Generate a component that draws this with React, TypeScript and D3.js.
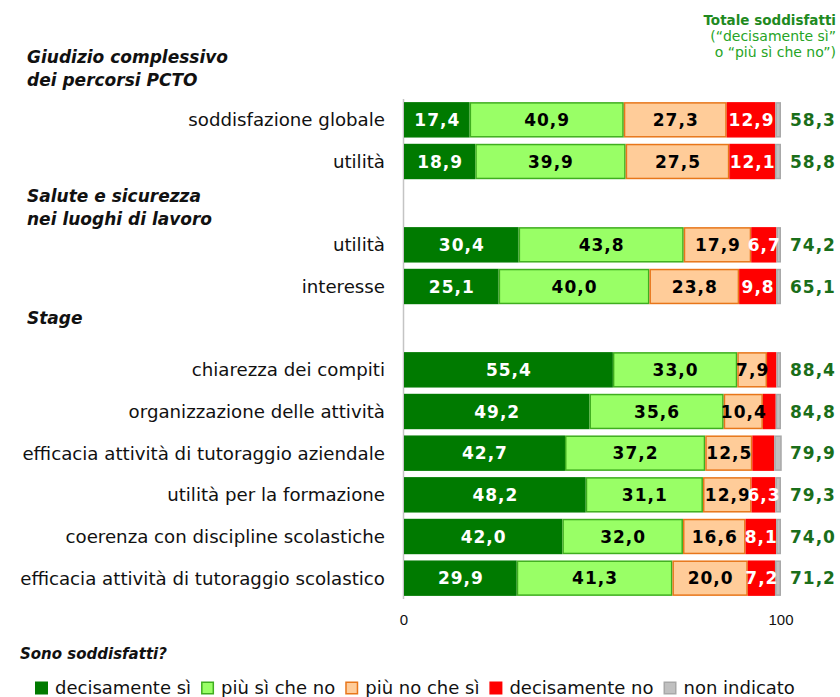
import React from "react";
import * as d3 from "d3";

const rowLabels = [
  "soddisfazione globale",
  "utilità",
  "",
  "utilità",
  "interesse",
  "",
  "chiarezza dei compiti",
  "organizzazione delle attività",
  "efficacia attività di tutoraggio aziendale",
  "utilità per la formazione",
  "coerenza con discipline scolastiche",
  "efficacia attività di tutoraggio scolastico",
];
const decisamenteSi = [17.4, 18.9, null, 30.4, 25.1, null, 55.4, 49.2, 42.7, 48.2, 42.0, 29.9];
const piuSiCheNo = [40.9, 39.9, null, 43.8, 40.0, null, 33.0, 35.6, 37.2, 31.1, 32.0, 41.3];
const piuNoCheSi = [27.3, 27.5, null, 17.9, 23.8, null, 7.9, 10.4, 12.5, 12.9, 16.6, 20.0];
const decisamenteNo = [12.9, 12.1, null, 6.7, 9.8, null, 2.5, 3.4, 5.8, 6.3, 8.1, 7.2];
const nonIndicato = [1.5, 1.6, null, 1.2, 1.3, null, 1.2, 1.4, 2.0, 1.5, 1.3, 1.6];
const totaleSoddisfatti = [58.3, 58.8, null, 74.2, 65.1, null, 88.4, 84.8, 79.9, 79.3, 74.0, 71.2];

const seriesNames = ["decisamente sì", "più sì che no", "più no che sì", "decisamente no", "non indicato"];
const seriesValues = [decisamenteSi, piuSiCheNo, piuNoCheSi, decisamenteNo, nonIndicato];
const seriesFill = ["#007a00", "#99ff66", "#ffcc99", "#ff0000", "#c0c0c0"];
const seriesStroke = ["#007a00", "#3fae1f", "#e8761a", "#ff0000", "#a8a8a8"];
const seriesText = ["#ffffff", "#000000", "#000000", "#ffffff", "#000000"];

const sectionTitles = [
  ["Giudizio complessivo", "dei percorsi PCTO"],
  ["Salute e sicurezza", "nei luoghi di lavoro"],
  ["Stage"],
];
const axisTicks = [0, 100];
const totalHeader = ["Totale soddisfatti", "(“decisamente sì”", "o “più sì che no”)"];
const legendTitle = "Sono soddisfatti?";

const W = 840;
const H = 697;
const FONT = "'DejaVu Sans', Verdana, sans-serif";

const fmt = (v: number) => v.toFixed(1).replace(".", ",");

function measure(text: string, font: string) {
  const c = document.createElement("canvas").getContext("2d");
  if (!c) return text.length * 9;
  c.font = font;
  return c.measureText(text).width;
}

export default function App() {
  const x = d3.scaleLinear().domain([0, 100]).range([404, 781]);
  const y = d3
    .scaleBand<number>()
    .domain(d3.range(rowLabels.length))
    .range([99, 599])
    .paddingInner(0.15)
    .paddingOuter(0.075);
  const bw = y.bandwidth();

  const rows = rowLabels.map((label, i) => {
    let acc = 0;
    const segs = seriesValues.map((arr, s) => {
      const v = arr[i];
      if (v == null) return null;
      const seg = { s, v, x0: acc, x1: acc + v };
      acc += v;
      return seg;
    }).filter(Boolean) as { s: number; v: number; x0: number; x1: number }[];
    return { label, i, segs, total: totaleSoddisfatti[i] };
  });

  // legend layout
  const legendFont = `18px ${FONT}`;
  let lx = 35;
  const legendItems = seriesNames.map((name, s) => {
    const item = { name, s, x: lx };
    lx += 12 + 8 + measure(name, legendFont) + 10;
    return item;
  });

  const yc = (i: number) => (y(i) as number) + bw / 2;

  return (
    <svg width={W} height={H} style={{ position: "absolute", left: 0, top: 0, background: "#fff" }} fontFamily={FONT}>
      {/* total header */}
      {totalHeader.map((t, k) => (
        <text
          key={k}
          x={836}
          y={25 + k * 16}
          textAnchor="end"
          fontSize={k === 0 ? 13.5 : 14}
          fontWeight={k === 0 ? "bold" : "normal"}
          fill={k === 0 ? "#1f8a1f" : "#26a426"}
        >
          {t}
        </text>
      ))}

      {/* section titles */}
      {sectionTitles[0].map((t, k) => (
        <text key={"a" + k} x={27} y={yc(0) - 57 + k * 23} fontSize={17} fontStyle="italic" fontWeight="bold" fill="#111">
          {t}
        </text>
      ))}
      {sectionTitles[1].map((t, k) => (
        <text key={"b" + k} x={27} y={yc(2) - 1 + k * 23} fontSize={17} fontStyle="italic" fontWeight="bold" fill="#111">
          {t}
        </text>
      ))}
      {sectionTitles[2].map((t, k) => (
        <text key={"c" + k} x={27} y={yc(5) - 4} fontSize={17} fontStyle="italic" fontWeight="bold" fill="#111">
          {t}
        </text>
      ))}

      {/* axis line */}
      <line x1={x(0) - 0.5} x2={x(0) - 0.5} y1={y.range()[0]} y2={y.range()[1]} stroke="#c4c4c4" strokeWidth={1.5} />

      {rows.map((r) => (
        <g key={r.i}>
          {r.label && (
            <text x={385} y={yc(r.i)} dy="0.35em" textAnchor="end" fontSize={18.2} fill="#111">
              {r.label}
            </text>
          )}
          {r.segs.map((sg) => (
            <rect
              key={sg.s}
              x={x(sg.x0) + 0.75}
              y={(y(r.i) as number) + 0.75}
              width={Math.max(0, x(sg.x1) - x(sg.x0) - 1.5)}
              height={bw - 1.5}
              fill={seriesFill[sg.s]}
              stroke={seriesStroke[sg.s]}
              strokeWidth={1.5}
            />
          ))}
          {r.segs
            .filter((sg) => sg.s < 4 && sg.v >= 6)
            .map((sg) => (
              <text
                key={"t" + sg.s}
                x={(x(sg.x0) + x(sg.x1)) / 2 + 0.5}
                y={yc(r.i)}
                dy="0.36em"
                textAnchor="middle"
                fontSize={17}
                fontWeight="bold"
                letterSpacing={1}
                fill={seriesText[sg.s]}
              >
                {fmt(sg.v)}
              </text>
            ))}
          {r.total != null && (
            <text x={790} y={yc(r.i)} dy="0.36em" fontSize={17} fontWeight="bold" letterSpacing={1} fill="#1a6e1a">
              {fmt(r.total)}
            </text>
          )}
        </g>
      ))}

      {/* ticks */}
      {axisTicks.map((t) => (
        <text key={t} x={x(t)} y={625} textAnchor="middle" fontSize={15} fontFamily="'Liberation Sans Narrow', 'Liberation Sans', sans-serif" fill="#111">
          {t}
        </text>
      ))}

      {/* legend */}
      <text x={20} y={659} fontSize={15} fontStyle="italic" fontWeight="bold" fill="#111">
        {legendTitle}
      </text>
      {legendItems.map((it) => (
        <g key={it.s}>
          <rect x={it.x + 0.75} y={682.25} width={11.5} height={11.5} fill={seriesFill[it.s]} stroke={seriesStroke[it.s]} strokeWidth={1.5} />
          <text x={it.x + 20} y={694} fontSize={18} fill="#111">
            {it.name}
          </text>
        </g>
      ))}
    </svg>
  );
}
